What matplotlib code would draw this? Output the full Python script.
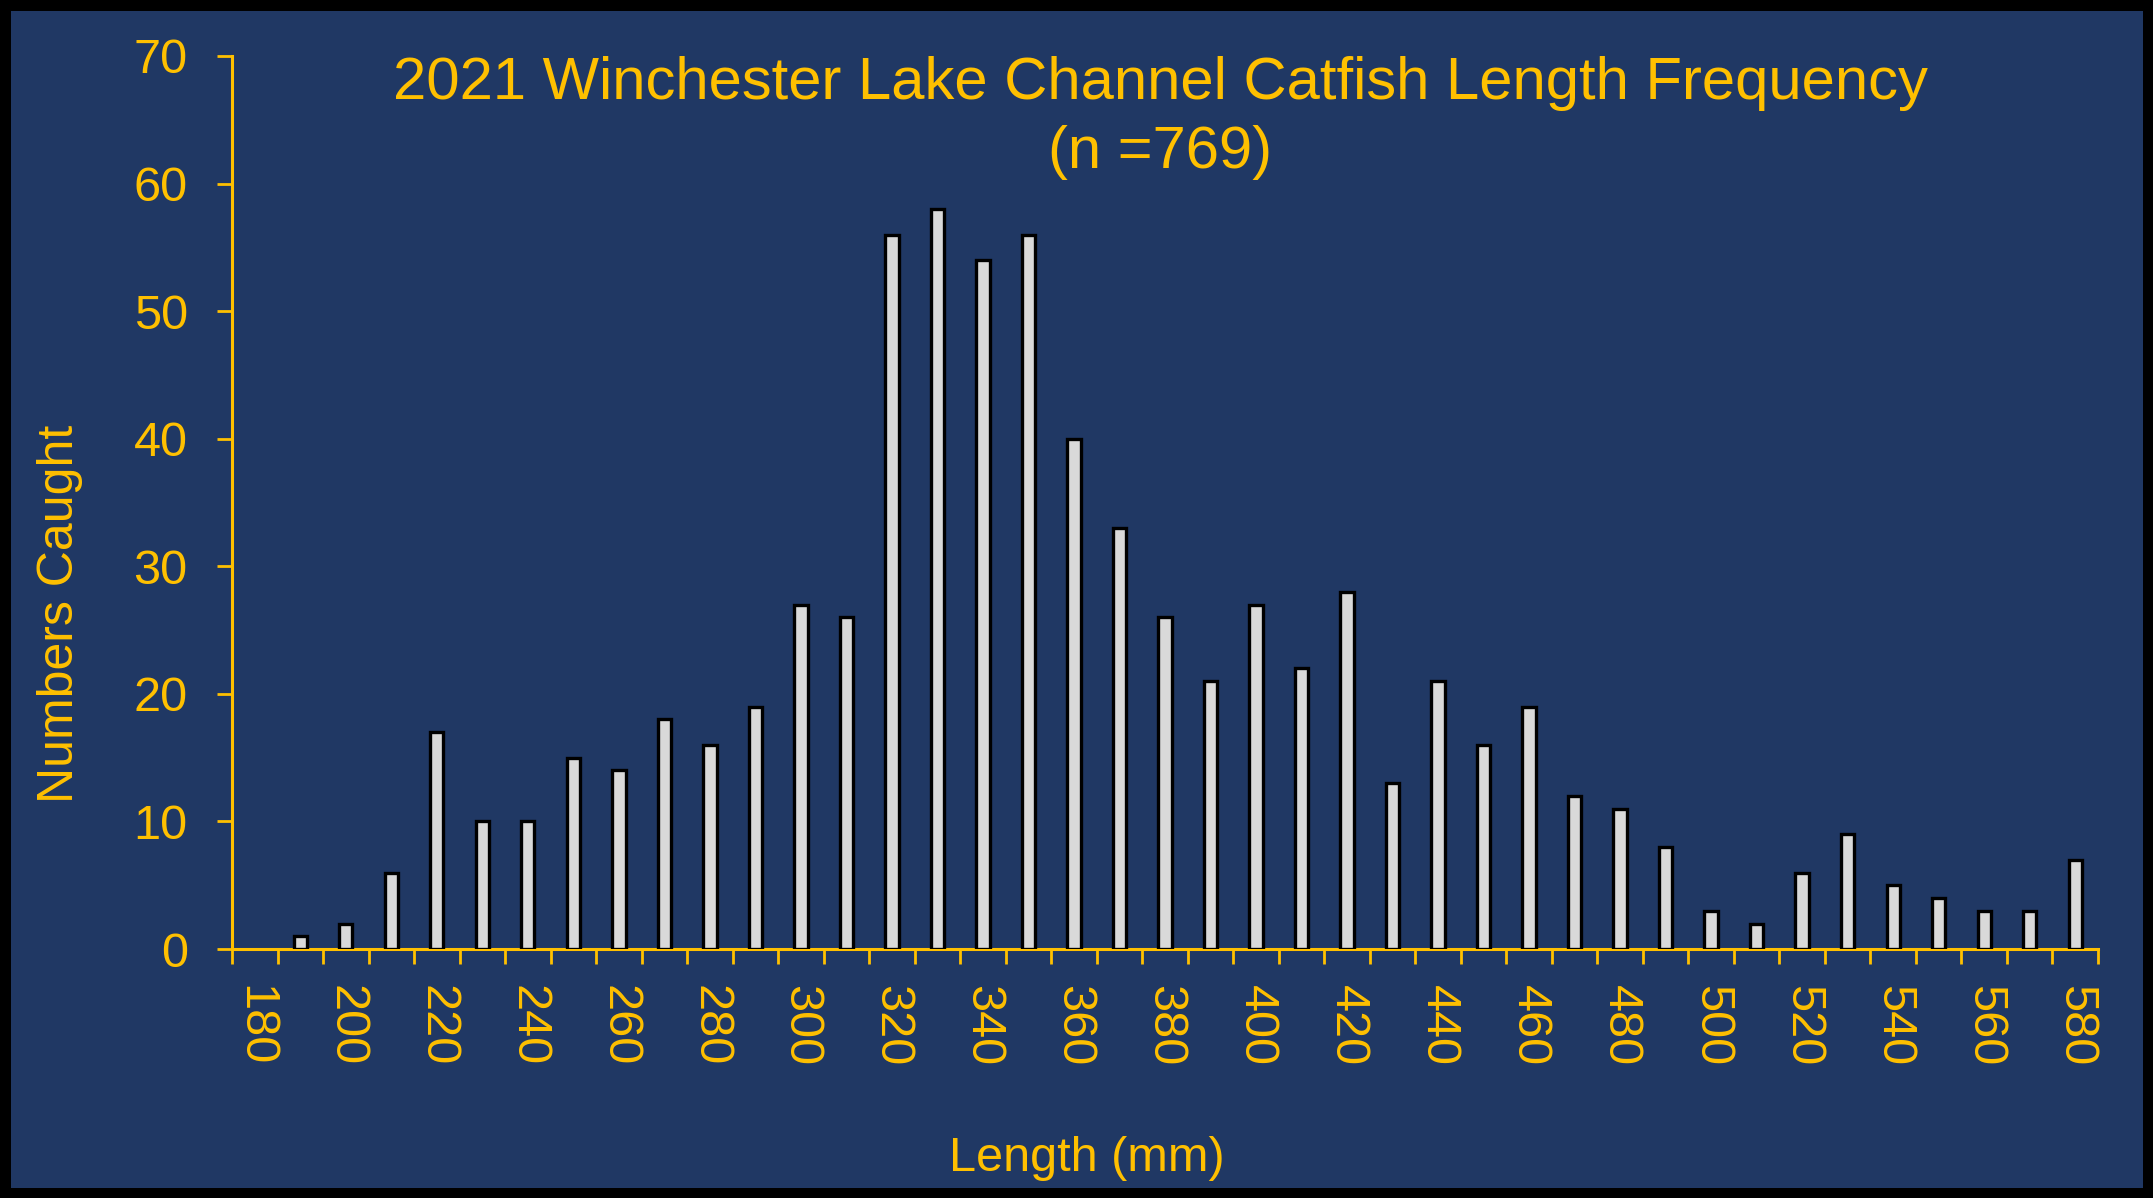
import matplotlib
matplotlib.use('Agg')
import matplotlib.pyplot as plt
import numpy as np

# length classes (mm) and number of fish caught in each
lengths = list(range(180, 590, 10))
counts = [0, 1, 2, 6, 17, 10, 10, 15, 14, 18, 16, 19, 27, 26,
          56, 58, 54, 56, 40, 33, 26, 21, 27, 22, 28,
          13, 21, 16, 19, 12, 11, 8, 3, 2, 6, 9, 5, 4, 3, 3, 7]
tick_labels = [str(v) for v in lengths[::2]]

title_1 = '2021 Winchester Lake Channel Catfish Length Frequency'
title_2 = '(n =769)'
bg = '#203864'
gold = '#FFC000'

plt.rcParams['font.family'] = ['Liberation Sans', 'DejaVu Sans']

fig = plt.figure(figsize=(21.53, 11.98), dpi=100)
fig.patch.set_facecolor(bg)
fig.patch.set_edgecolor('black')
fig.patch.set_linewidth(14)

ax = fig.add_axes([0.1078, 0.2078, 0.8666, 0.7455])
ax.set_facecolor(bg)

x = np.arange(len(lengths))
# empty classes get no outline (otherwise a flat line shows on the axis)
edges = ['black' if c > 0 else 'none' for c in counts]
ax.bar(x, counts, width=0.29, color='#D9D9D9', edgecolor=edges, linewidth=2.4, zorder=3)

ax.set_xlim(-0.5, len(lengths) - 0.5)
ax.set_ylim(0, 70)
ax.set_yticks(range(0, 71, 10))

# tick marks between categories, labels under every other class
ax.set_xticks(np.arange(-0.5, len(lengths), 1.0))
ax.set_xticklabels([])
ax.set_xticks(x[::2], minor=True)
ax.set_xticklabels(tick_labels, minor=True, rotation=-90, fontsize=35, color=gold, va='top')
ax.tick_params(axis='x', which='major', direction='out', length=11, width=2, color=gold)
ax.tick_params(axis='x', which='minor', length=0, pad=26)
ax.tick_params(axis='y', direction='out', length=11, width=2, color=gold,
               labelcolor=gold, labelsize=35, pad=21)

for side in ['top', 'right']:
    ax.spines[side].set_visible(False)
for side in ['left', 'bottom']:
    ax.spines[side].set_color(gold)
    ax.spines[side].set_linewidth(2.2)

ax.set_xlabel('Length (mm)', fontsize=35, color=gold)
ax.xaxis.set_label_coords(0.458, -0.234)
ax.xaxis.label.set_va('center')
ax.set_ylabel('Numbers Caught', fontsize=36, color=gold)
ax.yaxis.set_label_coords(-0.0925, 0.375)
ax.yaxis.label.set_va('center')

fig.text(0.539, 0.930, title_1, fontsize=43, color=gold, ha='center', va='center')
fig.text(0.539, 0.873, title_2, fontsize=43, color=gold, ha='center', va='center')

fig.savefig('out.png', dpi=100, facecolor=fig.get_facecolor(), edgecolor='black')
